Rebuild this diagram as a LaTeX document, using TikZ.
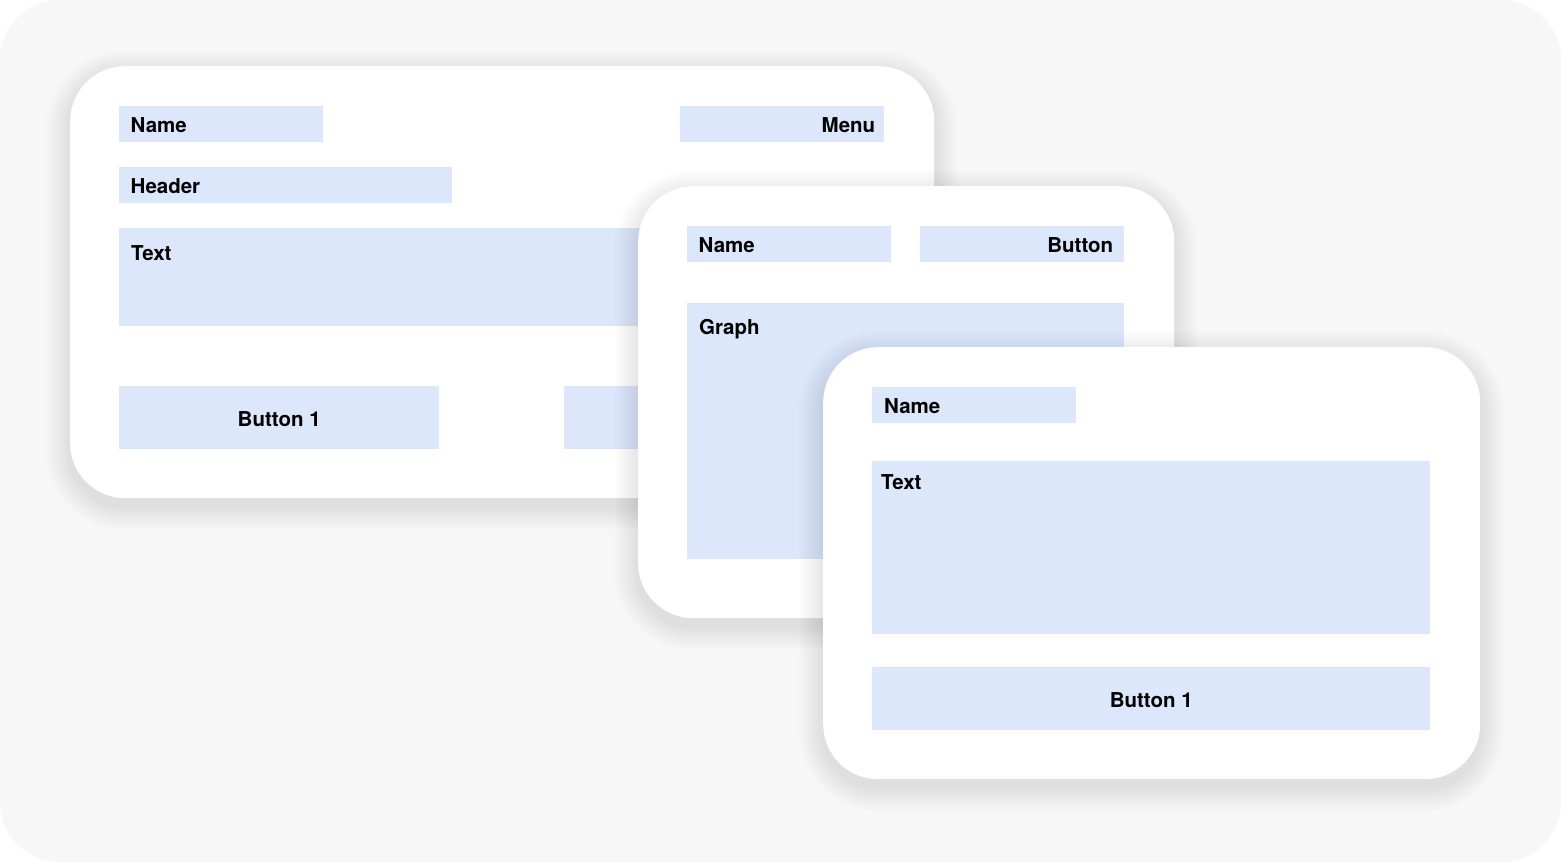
\documentclass[tikz,border=0pt]{standalone}
\usepackage{fontspec}
\setmainfont{TeX Gyre Heros}
\usetikzlibrary{positioning}
\definecolor{pagebg}{HTML}{F7F7F7}
\definecolor{blockx}{HTML}{DCE7FC}
\tikzset{
  card/.style={fill=white,rounded corners=55pt,anchor=north west,inner sep=0pt},
  blk/.style={fill=blockx,anchor=north west,inner sep=0pt},
  lbl/.style={font=\fontsize{20.5}{24}\selectfont\bfseries,inner sep=0pt,text=black},
  shd/.style={fill=black,fill opacity=0.006}
}
\begin{document}
\begin{tikzpicture}[x=1pt,y=-1pt]
\fill[white] (0,0) rectangle (1561,862);
\fill[pagebg,rounded corners=60pt] (0,0) rectangle (1561,862);
% first screen
\foreach \s in {1,...,12}{\fill[shd,rounded corners={(55+2*\s)*1pt}] (70-2*\s,74-2*\s) rectangle (934+2*\s,506+2*\s);}
\node[card,minimum width=864pt,minimum height=432pt] (cardA) at (70,66) {};
\node[blk,minimum width=204pt,minimum height=36pt] (nameA) at (119,106) {};
\node[lbl,right=11.5pt of nameA.west,yshift=-1pt] (nameAt) {Name};
\node[blk,minimum width=204pt,minimum height=36pt] (menuA) at (680,106) {};
\node[lbl,left=9pt of menuA.east,yshift=-1pt] (menuAt) {Menu};
\node[blk,minimum width=333pt,minimum height=36pt] (headA) at (119,167) {};
\node[lbl,right=11.5pt of headA.west,yshift=-1pt] (headAt) {Header};
\node[blk,minimum width=765pt,minimum height=98pt] (textA) at (119,228) {};
\node[lbl,below right=17pt and 12pt of textA.north west] (textAt) {Text};
\node[blk,minimum width=320pt,minimum height=63pt] (btnA) at (119,386) {};
\node[lbl,yshift=-1pt] (btnAt) at (btnA) {Button 1};
\node[blk,minimum width=320pt,minimum height=63pt] (btnAA) at (564,386) {};
% second screen
\foreach \s in {1,...,12}{\fill[shd,rounded corners={(55+2*\s)*1pt}] (638-2*\s,194-2*\s) rectangle (1174+2*\s,626+2*\s);}
\node[card,minimum width=536pt,minimum height=432pt] (cardB) at (638,186) {};
\node[blk,minimum width=204pt,minimum height=36pt] (nameB) at (687,226) {};
\node[lbl,right=11.5pt of nameB.west,yshift=-1pt] (nameBt) {Name};
\node[blk,minimum width=204pt,minimum height=36pt] (btnB) at (920,226) {};
\node[lbl,left=11pt of btnB.east,yshift=-1pt] (btnBt) {Button};
\node[blk,minimum width=437pt,minimum height=256pt] (graphB) at (687,303) {};
\node[lbl,below right=16pt and 12pt of graphB.north west] (graphBt) {Graph};
% third screen
\foreach \s in {1,...,12}{\fill[shd,rounded corners={(55+2*\s)*1pt}] (823-2*\s,355-2*\s) rectangle (1480+2*\s,787+2*\s);}
\node[card,minimum width=657pt,minimum height=432pt] (cardC) at (823,347) {};
\node[blk,minimum width=204pt,minimum height=36pt] (nameC) at (872,387) {};
\node[lbl,right=12pt of nameC.west,yshift=-1pt] (nameCt) {Name};
\node[blk,minimum width=558pt,minimum height=173pt] (textC) at (872,461) {};
\node[lbl,below right=13pt and 9pt of textC.north west] (textCt) {Text};
\node[blk,minimum width=558pt,minimum height=63pt] (btnC) at (872,667) {};
\node[lbl,yshift=-1pt] (btnCt) at (btnC) {Button 1};
\end{tikzpicture}
\end{document}
